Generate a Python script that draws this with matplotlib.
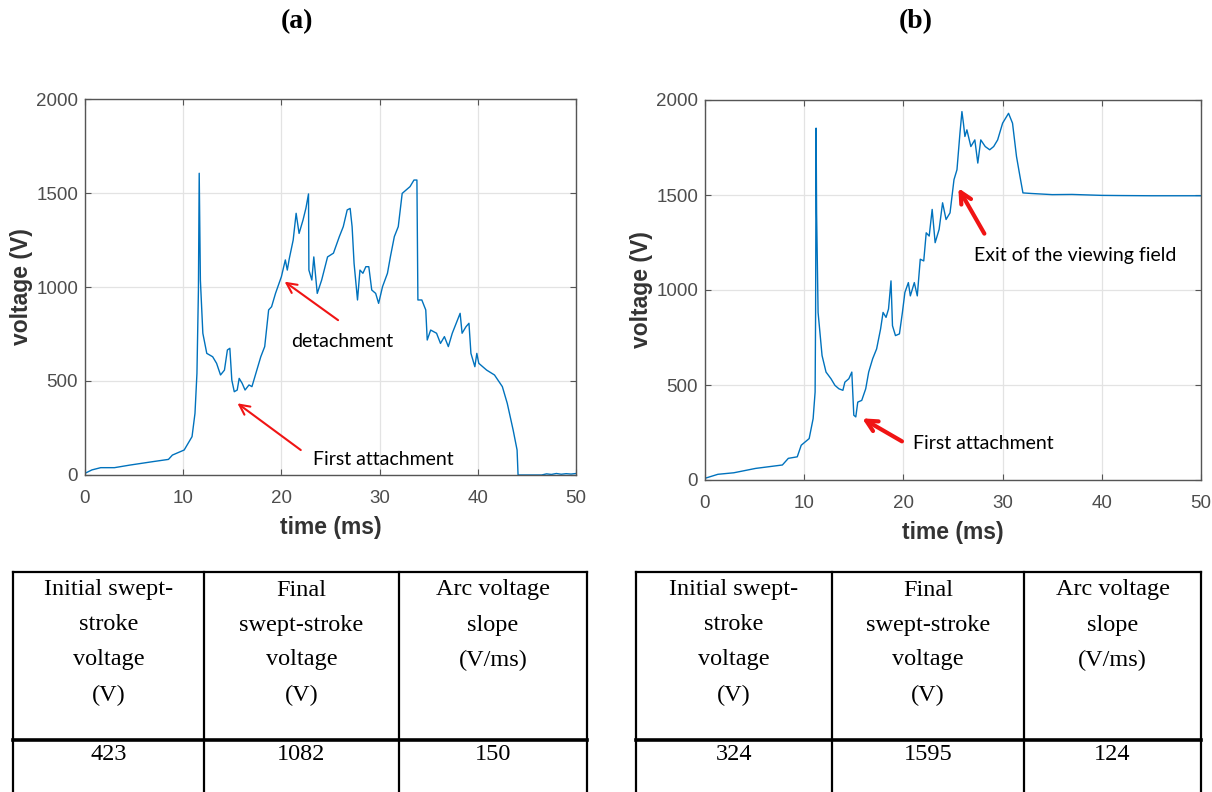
import numpy as np
import matplotlib.pyplot as plt
from matplotlib.lines import Line2D

W, H = 1212, 792

# waveform (a)
t_a = [0, 0.7, 1.6, 3.0, 4.6, 6.9, 8.5, 8.9, 10.1, 10.9, 11.2, 11.4, 11.55, 11.63, 11.75,
       12.0, 12.4, 13.0, 13.4, 13.8, 14.2, 14.5, 14.75, 14.95, 15.2, 15.5, 15.7, 16.0, 16.3,
       16.7, 17.0, 17.3, 17.9, 18.3, 18.7, 19.0, 19.4, 20.0, 20.4, 20.6, 20.8, 21.2, 21.5,
       21.8, 22.2, 22.5, 22.76, 22.8, 23.1, 23.3, 23.65, 24.1, 24.7, 25.3, 25.9, 26.3, 26.7,
       27.0, 27.2, 27.4, 27.75, 28.0, 28.3, 28.6, 28.9, 29.2, 29.6, 29.9, 30.3, 30.8, 31.1,
       31.5, 31.9, 32.3, 32.7, 33.1, 33.5, 33.8, 33.9, 34.3, 34.7, 34.85, 35.2, 35.8, 36.2,
       36.6, 37.0, 37.4, 37.8, 38.2, 38.4, 38.8, 39.1, 39.3, 39.7, 39.9, 40.1, 40.9, 41.7,
       42.5, 43.0, 43.6, 44.0, 44.1, 46.5, 47.0, 47.5, 48.0, 48.5, 49.0, 49.5, 50.0]
v_a = [9, 27, 39, 39, 53, 71, 83, 106, 133, 204, 328, 541, 984, 1605, 1037,
       754, 647, 629, 594, 532, 558, 665, 674, 505, 443, 452, 514, 488, 452,
       479, 470, 523, 629, 683, 878, 895, 966, 1055, 1144, 1090, 1150, 1250, 1392,
       1285, 1356, 1420, 1495, 1090, 1037, 1160, 966, 1037, 1160, 1180, 1268, 1321, 1410,
       1418, 1321, 1126, 931, 1090, 1073, 1108, 1108, 984, 966, 913, 1002, 1073, 1161,
       1268, 1321, 1498, 1516, 1534, 1569, 1569, 931, 931, 878, 718, 771, 754, 700,
       736, 683, 754, 807, 860, 754, 789, 807, 647, 576, 647, 594, 558, 532,
       470, 381, 239, 133, 0, 0, 6, 3, 8, 4, 7, 5, 8]

# waveform (b)
t_b = [0, 1.3, 2.9, 5.1, 7.8, 8.4, 9.3, 9.7, 10.5, 10.9, 11.1, 11.15, 11.2, 11.25, 11.4,
       11.8, 12.2, 12.7, 13.1, 13.5, 13.9, 14.1, 14.5, 14.8, 15.0, 15.2, 15.4, 15.8, 16.2,
       16.5, 16.9, 17.3, 17.7, 17.95, 18.25, 18.5, 18.75, 18.9, 19.2, 19.6, 19.9, 20.15,
       20.5, 20.7, 21.1, 21.4, 21.7, 22.05, 22.3, 22.6, 22.9, 23.2, 23.6, 23.95, 24.3, 24.7,
       25.1, 25.4, 25.7, 25.9, 26.05, 26.2, 26.4, 26.8, 27.2, 27.5, 27.8, 28.25, 28.7, 29.1,
       29.5, 30.0, 30.6, 31.0, 31.4, 31.75, 32.05, 32.9, 35.0, 37.0, 40.0, 42.0, 45.0, 50.0]
v_b = [9, 30, 38, 61, 79, 114, 122, 183, 218, 323, 463, 882, 1852, 1406, 882,
       655, 568, 533, 498, 480, 472, 515, 533, 568, 341, 332, 410, 419, 480,
       568, 638, 690, 795, 882, 856, 900, 1048, 812, 760, 769, 882, 987,
       1039, 969, 1039, 969, 1162, 1153, 1301, 1284, 1424, 1249, 1319, 1459, 1371, 1406,
       1581, 1633, 1825, 1939, 1878, 1808, 1843, 1755, 1790, 1668, 1790, 1755, 1738, 1755,
       1790, 1878, 1930, 1878, 1703, 1598, 1511, 1508, 1502, 1503, 1498, 1497, 1496, 1496]

x_ticks = [0, 10, 20, 30, 40, 50]
y_ticks = [0, 500, 1000, 1500, 2000]

headers = ['Initial swept-\nstroke\nvoltage\n(V)', 'Final\nswept-stroke\nvoltage\n(V)',
           'Arc voltage\nslope\n(V/ms)']
values_a = ['423', '1082', '150']
values_b = ['324', '1595', '124']


def px(x, y):
    return x / W, 1 - y / H


fig = plt.figure(figsize=(W / 100, H / 100), dpi=100)

ax_a = fig.add_axes([85 / W, 1 - 475 / H, 491 / W, 376 / H])
ax_b = fig.add_axes([705 / W, 1 - 480 / H, 496 / W, 380 / H])

for ax, t, v in [(ax_a, t_a, v_a), (ax_b, t_b, v_b)]:
    ax.plot(t, v, color='#0072BD', lw=1.0)
    ax.set_xlim(0, 50)
    ax.set_ylim(0, 2000)
    ax.set_xticks(x_ticks)
    ax.set_yticks(y_ticks)
    ax.grid(True, color='#e3e3e3', lw=0.9)
    ax.set_axisbelow(True)
    ax.tick_params(direction='in', length=4, top=True, right=True, colors='#555555',
                   labelcolor='#4d4d4d', labelsize=13.5)
    ax.tick_params(axis='x', pad=11)
    ax.tick_params(axis='y', pad=5)
    for lab in ax.get_xticklabels() + ax.get_yticklabels():
        lab.set_family('Liberation Sans')
    for s in ax.spines.values():
        s.set_color('#555555')
        s.set_linewidth(1.0)
    ax.set_xlabel('time (ms)', fontsize=16.5, fontweight='bold', family='Liberation Sans',
                  color='#333333', labelpad=6)
    ax.set_ylabel('voltage (V)', fontsize=16.5, fontweight='bold', family='Liberation Sans',
                  color='#333333', labelpad=2)

red = '#f01414'
note_font = dict(fontsize=14, family='Lato', color='black')
ax_a.annotate('', xy=(20.1, 1037), xytext=(26.0, 815),
              arrowprops=dict(arrowstyle='->', color=red, lw=1.5, mutation_scale=18))
ax_a.text(26.2, 709, 'detachment', ha='center', va='center', **note_font)
ax_a.annotate('', xy=(15.3, 390), xytext=(22.2, 124),
              arrowprops=dict(arrowstyle='->', color=red, lw=1.5, mutation_scale=18))
ax_a.text(30.4, 85, 'First attachment', ha='center', va='center', **note_font)

ax_b.annotate('', xy=(25.4, 1549), xytext=(28.3, 1284),
              arrowprops=dict(arrowstyle='->', color=red, lw=3, mutation_scale=20))
ax_b.text(37.3, 1179, 'Exit of the viewing field', ha='center', va='center', **note_font)
ax_b.annotate('', xy=(15.6, 332), xytext=(20.1, 196),
              arrowprops=dict(arrowstyle='->', color=red, lw=3, mutation_scale=20))
ax_b.text(28.1, 192, 'First attachment', ha='center', va='center', **note_font)

# panel titles
fig.text(*px(297, 22), '(a)', ha='center', va='center', fontsize=20, fontweight='bold',
         family='Liberation Serif')
fig.text(*px(916, 22), '(b)', ha='center', va='center', fontsize=20, fontweight='bold',
         family='Liberation Serif')

# tables under each chart
for edges, values in [([13, 204, 399, 587], values_a), ([636, 832, 1024, 1201], values_b)]:
    top, mid, bot = 572, 740, 800
    for yy, lw in [(top, 1.6), (mid, 2.6)]:
        fig.add_artist(Line2D([edges[0] / W, edges[-1] / W], [1 - yy / H, 1 - yy / H],
                              color='black', lw=lw))
    for xx in edges:
        fig.add_artist(Line2D([xx / W, xx / W], [1 - top / H, 1 - bot / H],
                              color='black', lw=1.6))
    for i, (head, val) in enumerate(zip(headers, values)):
        xc = (edges[i] + edges[i + 1]) / 2
        for k, line in enumerate(head.split('\n')):
            fig.text(*px(xc, 590 + k * 35), line, ha='center', va='center', fontsize=17.5,
                     family='Liberation Serif')
        fig.text(*px(xc, 754), val, ha='center', va='center', fontsize=17.5,
                 family='Liberation Serif')

fig.savefig('out.png', dpi=100)
